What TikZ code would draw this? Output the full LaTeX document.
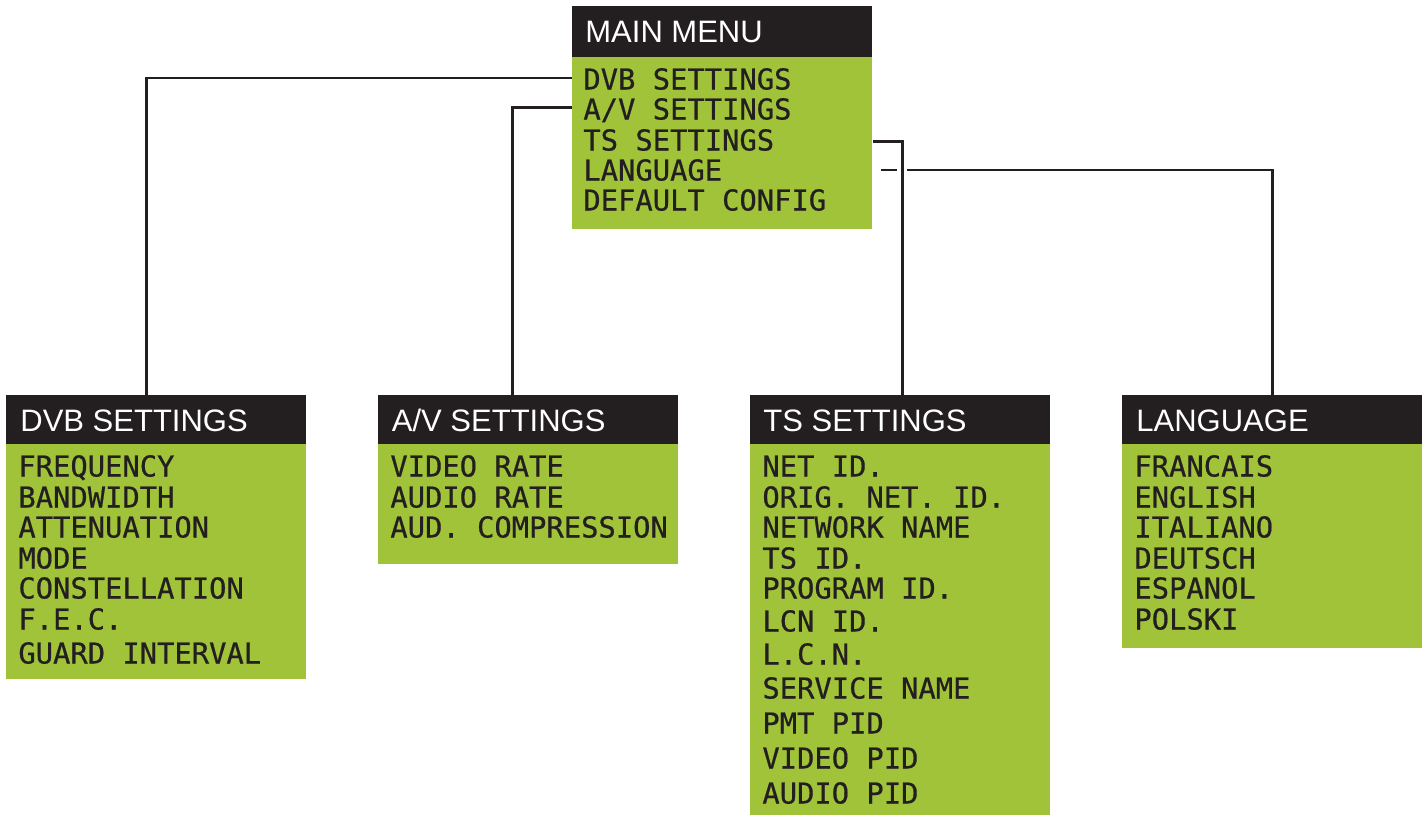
\documentclass[tikz,border=0pt]{standalone}
\usepackage{fontspec}
\setmainfont{Liberation Sans}
\newfontfamily\lcd[FakeBold=0.6]{DejaVu Sans Mono}
\definecolor{menugreen}{HTML}{A1C33A}
\definecolor{menudark}{HTML}{231F20}
\tikzset{
  hdrbox/.style={fill=menudark, draw=none, rectangle, inner sep=0pt, minimum width=150pt, minimum height=#1, anchor=north west},
  bodybox/.style={fill=menugreen, draw=none, rectangle, inner sep=0pt, minimum width=150pt, minimum height=#1, anchor=north west},
  htext/.style={anchor=base west, inner sep=0pt, text=white, font=\fontsize{15.5pt}{18pt}\selectfont},
  itext/.style={anchor=base west, inner sep=0pt, text=menudark, font=\lcd\fontsize{14.4pt}{17pt}\selectfont},
  conn/.style={draw=menudark, line width=1.4pt}
}
\begin{document}
\begin{tikzpicture}[x=0.5pt, y=-0.5pt]
\useasboundingbox (0,0) rectangle (1427,816);
% main menu
\node[hdrbox=25.5pt] (mainh) at (572,6) {};
\node[bodybox=86pt] (mainb) at (572,57) {};
\node[htext] (maint) at (585,42.5) {MAIN MENU};
\foreach \y/\t [count=\i] in {79/{DVB SETTINGS}, 109/{A/V SETTINGS}, 140/{TS SETTINGS}, 170/{LANGUAGE}, 200/{DEFAULT CONFIG}}
  \node[itext] (m\i) at (583,\y+10.5) {\t};
% DVB settings
\node[hdrbox=24.5pt] (dvbh) at (6,395) {};
\node[bodybox=117.5pt] (dvbb) at (6,444) {};
\node[htext] (dvbt) at (20,431) {DVB SETTINGS};
\foreach \y/\t [count=\i] in {466/FREQUENCY, 497/BANDWIDTH, 527/ATTENUATION, 558/MODE, 588/CONSTELLATION, 619/F.E.C., 653/GUARD INTERVAL}
  \node[itext] (d\i) at (18,\y+10.5) {\t};
% A/V settings
\node[hdrbox=24.5pt] (avh) at (378,395) {};
\node[bodybox=60pt] (avb) at (378,444) {};
\node[htext] (avt) at (391.5,431) {A/V SETTINGS};
\foreach \y/\t [count=\i] in {466/VIDEO RATE, 497/AUDIO RATE, 527/AUD. COMPRESSION}
  \node[itext] (a\i) at (390,\y+10.5) {\t};
% TS settings
\node[hdrbox=24.5pt] (tsh) at (750,395) {};
\node[bodybox=185.5pt] (tsb) at (750,444) {};
\node[htext] (tst) at (763,431) {TS SETTINGS};
\foreach \y/\t [count=\i] in {466/NET ID., 497/ORIG. NET. ID., 527/NETWORK NAME, 558/TS ID., 588/PROGRAM ID., 621/LCN ID., 654/L.C.N., 688/SERVICE NAME, 723/PMT PID, 758/VIDEO PID, 793/AUDIO PID}
  \node[itext] (t\i) at (762,\y+10.5) {\t};
% Language
\node[hdrbox=24.5pt] (lgh) at (1122,395) {};
\node[bodybox=102pt] (lgb) at (1122,444) {};
\node[htext] (lgt) at (1136,431) {LANGUAGE};
\foreach \y/\t [count=\i] in {466/FRANCAIS, 497/ENGLISH, 527/ITALIANO, 558/DEUTSCH, 588/ESPANOL, 619/POLSKI}
  \node[itext] (l\i) at (1134,\y+10.5) {\t};
% connectors
\coordinate (tsx) at ([xshift=1pt]tsh.north);
\draw[conn] ([yshift=0.5pt]mainb.west |- m1) -| ([xshift=-5pt]dvbh.north);
\draw[conn] ([yshift=1.5pt]mainb.west |- m2) -| ([xshift=-8pt]avh.north);
\draw[conn] ([yshift=-0.8pt]mainb.east |- m3) -| (tsx);
\draw[conn] ([xshift=4pt]mainb.east |- m4) -- ([xshift=-2.5pt]tsx |- m4);
\draw[conn] ([xshift=2.5pt]tsx |- m4) -| (lgh.north);
\end{tikzpicture}
\end{document}
